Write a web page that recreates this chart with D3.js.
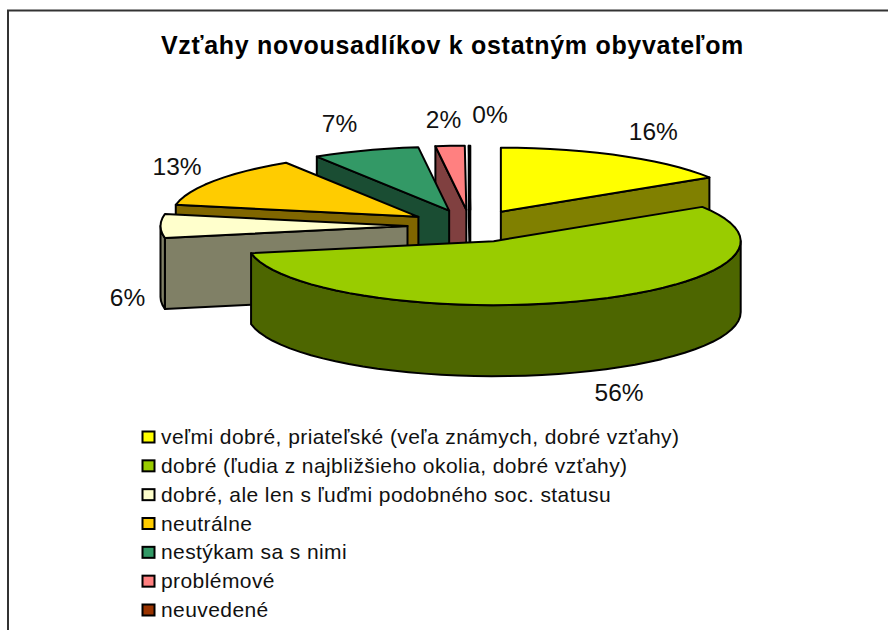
<!DOCTYPE html>
<html><head><meta charset="utf-8">
<style>html,body{margin:0;padding:0;background:#fff}svg{display:block}</style>
<script src="https://cdn.jsdelivr.net/npm/d3@7/dist/d3.min.js"></script></head>
<body><svg id="c" width="888" height="630"></svg>
<script>
const title = "Vzťahy novousadlíkov k ostatným obyvateľom";
const categories = [
  "veľmi dobré, priateľské (veľa známych, dobré vzťahy)",
  "dobré (ľudia z najbližšieho okolia, dobré vzťahy)",
  "dobré, ale len s ľuďmi podobného soc. statusu",
  "neutrálne",
  "nestýkam sa s nimi",
  "problémové",
  "neuvedené"
];
const values = [16, 56, 6, 13, 7, 1.9, 0.1];
const colors = ["#FFFF00", "#99CC00", "#FFFFCC", "#FFCC00", "#339966", "#FF8080", "#993300"];

const W = 888, H = 630;
const cx = 470.5, cy = 226, rx = 247, ry = 64, depth = 71, explode = 63;
const font = "'Liberation Sans', Arial, sans-serif";
const svg = d3.select("#c");

svg.append("rect").attr("x", 8).attr("y", 10.5).attr("width", 900).attr("height", 640)
  .attr("fill", "#fff").attr("stroke", "#333").attr("stroke-width", 2);

svg.append("text").attr("x", 452.5).attr("y", 54).attr("text-anchor", "middle")
  .attr("font-family", font).attr("font-weight", "bold").attr("font-size", 25)
  .attr("letter-spacing", 0.7).attr("fill", "#000").text(title);

const pie = d3.pie().sort(null).value(d => d)(values);
const line = d3.line();
const shade = c => { const r = d3.rgb(c); return d3.rgb(r.r / 2, r.g / 2, r.b / 2).formatHex(); };

pie.forEach(s => {
  const m = (s.startAngle + s.endAngle) / 2;
  s.ax = cx + explode * Math.sin(m);
  s.ay = cy - explode * (ry / rx) * Math.cos(m);
  s.pt = a => [s.ax + rx * Math.sin(a), s.ay - ry * Math.cos(a)];
  s.color = colors[s.index];
});
const down = p => [p[0], p[1] + depth];
const arcPts = (s, a0, a1) => {
  const n = Math.max(2, Math.ceil((a1 - a0) / 0.07));
  return d3.range(n + 1).map(i => s.pt(a0 + (a1 - a0) * i / n));
};

const g = svg.append("g").attr("stroke", "#000").attr("stroke-width", 2).attr("stroke-linejoin", "round");
// painter's order: back slices first, the big front slice last
const order = [6, 5, 4, 3, 2, 0, 1];
order.forEach(i => {
  const s = pie[i], side = shade(s.color), A = [s.ax, s.ay];
  const wall = pts => g.append("path").attr("d", line(pts) + "Z").attr("fill", side);
  if (Math.sin(s.startAngle) < 0) { const p = s.pt(s.startAngle); wall([A, p, down(p), down(A)]); }
  if (Math.sin(s.endAngle) > 0) { const p = s.pt(s.endAngle); wall([A, p, down(p), down(A)]); }
  const f0 = Math.max(s.startAngle, Math.PI / 2), f1 = Math.min(s.endAngle, 3 * Math.PI / 2);
  if (f1 > f0) { const a = arcPts(s, f0, f1); wall(a.concat(a.map(down).reverse())); }
  g.append("path").attr("d", line([A].concat(arcPts(s, s.startAngle, s.endAngle))) + "Z").attr("fill", s.color);
});

// label offset from each slice's outer rim point, per slice
const labelShift = [[33.5, -16], [34.5, 29], [-33, 80], [-37, -6], [-26, -18], [-6.5, -18], [20.5, -23]];
pie.forEach((s, i) => {
  const m = (s.startAngle + s.endAngle) / 2, p = s.pt(m);
  const base = Math.cos(m) < 0 ? depth : 0;
  svg.append("text").attr("x", p[0] + labelShift[i][0]).attr("y", p[1] + base + labelShift[i][1])
    .attr("text-anchor", "middle").attr("font-family", font).attr("font-size", 24.5).attr("fill", "#111")
    .text(Math.round(values[i]) + "%");
});

const rowY = d3.scalePoint().domain(categories).range([437, 610]);
const lg = svg.append("g");
categories.forEach((c, i) => {
  const y = rowY(c);
  lg.append("rect").attr("x", 142.5).attr("y", y - 5.5).attr("width", 12).attr("height", 11)
    .attr("fill", colors[i]).attr("stroke", "#000").attr("stroke-width", 2);
  lg.append("text").attr("x", 161).attr("y", y + 7).attr("font-family", font).attr("font-size", 21)
    .attr("letter-spacing", 0.42).attr("fill", "#111").text(c);
});
</script></body></html>
